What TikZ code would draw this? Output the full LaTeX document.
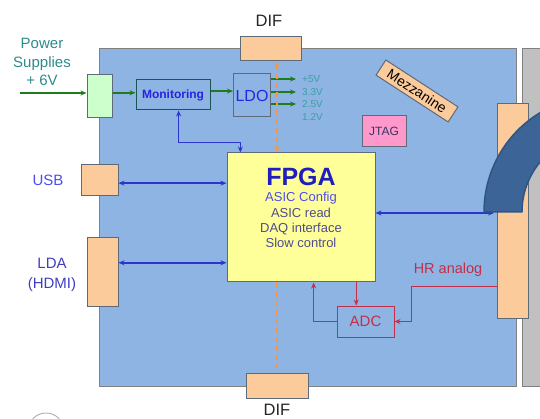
\documentclass[tikz,border=0pt]{standalone}
\usepackage{fontspec}
\setmainfont{Liberation Sans}
\usetikzlibrary{arrows.meta}

\definecolor{carte}{HTML}{8EB4E3}
\definecolor{orangec}{HTML}{FCCB9C}
\definecolor{jaune}{HTML}{FFFF99}
\definecolor{vertclair}{HTML}{CCFFCC}
\definecolor{rose}{HTML}{FF99CC}
\definecolor{gris}{HTML}{C0C0C0}
\definecolor{arcbleu}{HTML}{3C6496}
\definecolor{arcbord}{HTML}{2F5585}
\definecolor{bord}{HTML}{5F6A78}
\definecolor{bleutxt}{HTML}{2525E0}
\definecolor{bleuusb}{HTML}{4D4DF0}
\definecolor{fleche}{HTML}{2B35CC}
\definecolor{vertf}{HTML}{1E7B1E}
\definecolor{turq}{HTML}{2E8B8B}
\definecolor{turqc}{HTML}{3A9FA6}
\definecolor{rouge}{HTML}{C0304A}
\definecolor{tiret}{HTML}{F79646}
\definecolor{violet}{HTML}{504C8C}

\begin{document}
\begin{tikzpicture}[x=1pt, y=-1pt, >={Stealth[length=6pt,width=5pt]},
    bloc/.style={draw=bord, inner sep=0pt, line width=1pt},
    prise/.style={bloc, fill=orangec},
    bus/.style={fleche, line width=1.5pt},
    alim/.style={vertf, line width=1.5pt},
    sig/.style={rouge, line width=1.3pt},
    pointille/.style={tiret, line width=1.5pt, dash pattern=on 5pt off 4pt}]
    \useasboundingbox (0,0) rectangle (540,419);
    \clip (0,0) rectangle (540,419);

    % Panneau gris et carte
    \node[bloc, draw=gray, fill=gris, minimum width=26, minimum height=337] (panneau) at (535,217.5) {};
    \node[bloc, draw=gray, fill=carte, minimum width=417, minimum height=337] (carte) at (307.5,217.5) {};

    % Connecteurs
    \node[prise, minimum width=61, minimum height=24] (diftop) at (270.5,49) {};
    \node[prise, minimum width=62, minimum height=25] (difbot) at (277,385.5) {};
    \node[prise, minimum width=37, minimum height=31] (usb) at (99.5,180.5) {};
    \node[prise, minimum width=31, minimum height=68] (lda) at (102.5,272) {};
    \node[prise, minimum width=31, minimum height=214] (conn) at (512.5,211) {};
    \node[bloc, fill=vertclair, minimum width=25, minimum height=43] (pwr) at (99.5,96.5) {};

    % Blocs
    \node[bloc, draw=turq!60!black, fill=carte, minimum width=74, minimum height=30,
          text=bleutxt, font=\fontsize{12}{14}\selectfont\bfseries] (monit) at (173,95) {Monitoring};
    \node[bloc, fill=carte, minimum width=37, minimum height=43,
          text=bleutxt, font=\fontsize{16}{18}\selectfont] (ldo) at (252,95.5) {LDO};
    \node[bloc, fill=jaune, minimum width=148, minimum height=129, align=center,
          text=violet, font=\fontsize{13}{15.3}\selectfont] (fpga) at (301,217.5)
          {{\color{bleutxt!85!black}\fontsize{25}{28}\selectfont\bfseries FPGA}\\[1pt]
           {\color{bleuusb}ASIC Config}\\ASIC read\\DAQ interface\\Slow control\\[4pt]};
    \node[bloc, fill=rose, minimum width=44, minimum height=31,
          text=violet!70!black, font=\fontsize{12}{14}\selectfont] (jtag) at (384,131.5) {JTAG};
    \node[bloc, fill=orangec, minimum width=86, minimum height=18, rotate=-33,
          font=\fontsize{14}{16}\selectfont] (mezz) at (417,91) {Mezzanine};
    \node[bloc, draw=rouge, fill=carte, minimum width=57, minimum height=31,
          text=rouge, font=\fontsize{15}{17}\selectfont] (adc) at (365.5,321.5) {ADC};

    % Textes
    \node[turq, align=center, font=\fontsize{15}{18.5}\selectfont] (lalim) at (42,62) {Power\\Supplies\\+ 6V};
    \node[bleuusb, font=\fontsize{15}{17}\selectfont] (lusb) at (48,180) {USB};
    \node[bleuusb!80!black, align=center, font=\fontsize{15}{20}\selectfont] (llda) at (52,275) {LDA\\(HDMI)};
    \node[black!85, font=\fontsize{16.5}{18}\selectfont] (ldiftop) at (269,21) {DIF};
    \node[black!85, font=\fontsize{16.5}{18}\selectfont] (ldifbot) at (277,410) {DIF};
    \node[rouge, font=\fontsize{14.5}{16}\selectfont] (lhr) at (448,270) {HR analog};
    \node[turqc, anchor=west, inner sep=0pt, font=\fontsize{10}{12}\selectfont] (v5) at (302,79) {+5V};
    \node[turqc, anchor=west, inner sep=0pt, font=\fontsize{10}{12}\selectfont] (v33) at (302,92) {3.3V};
    \node[turqc, anchor=west, inner sep=0pt, font=\fontsize{10}{12}\selectfont] (v25) at (302,104) {2.5V};
    \node[turqc, anchor=west, inner sep=0pt, font=\fontsize{10}{12}\selectfont] (v12) at (302,117) {1.2V};

    % Alimentation
    \coordinate (entree) at (20,93);
    \draw[alim, ->] (entree) -- (entree -| pwr.west);
    \draw[alim, ->] (pwr.16) -- (pwr.16 -| monit.west);
    \draw[alim, ->] (monit.6) -- (monit.6 -| ldo.west);
    \draw[alim, ->] (ldo.east |- v5) -- ([xshift=-6pt]v5.west);
    \draw[alim, ->] (ldo.east |- v33) -- ([xshift=-6pt]v33.west);
    \draw[alim, ->] (ldo.east |- v25) -- ([xshift=-6pt]v25.west);

    % Liaison DIF
    \draw[pointille, <->] (diftop.south -| difbot) -- (fpga.north -| difbot);
    \draw[pointille, shorten >=5pt] (fpga.south -| difbot) -- (difbot.north);

    % Bus FPGA
    \draw[bus, <->] (monit.-70) -- ++(0,32) -| (fpga.133.4);
    \draw[bus, <->] (usb.-8) -- (usb.-8 -| fpga.west);
    \draw[bus, <->] (lda.30) -- (lda.30 -| fpga.west);
    \coordinate (nappe) at (494,213);
    \draw[bus, <->] (fpga.east |- nappe) -- (nappe);

    % ADC
    \draw[sig, ->] (fpga.south -| adc.120) -- (adc.120);
    \draw[sig, ->] (adc.west) -| (fpga.-79);
    \draw[sig, ->] (conn.-102.3) -- ++(-85,0) |- (adc.east);

    % Nappe
    \draw[draw=arcbord, fill=arcbleu, line width=1.5pt] (484,212) arc (180:250:116)
        -- (573.3,138.7) arc (250:180:78) -- cycle;

    % Cercle coupe
    \draw[gray!70, line width=0.8pt] (46,431) circle (18);
\end{tikzpicture}
\end{document}
